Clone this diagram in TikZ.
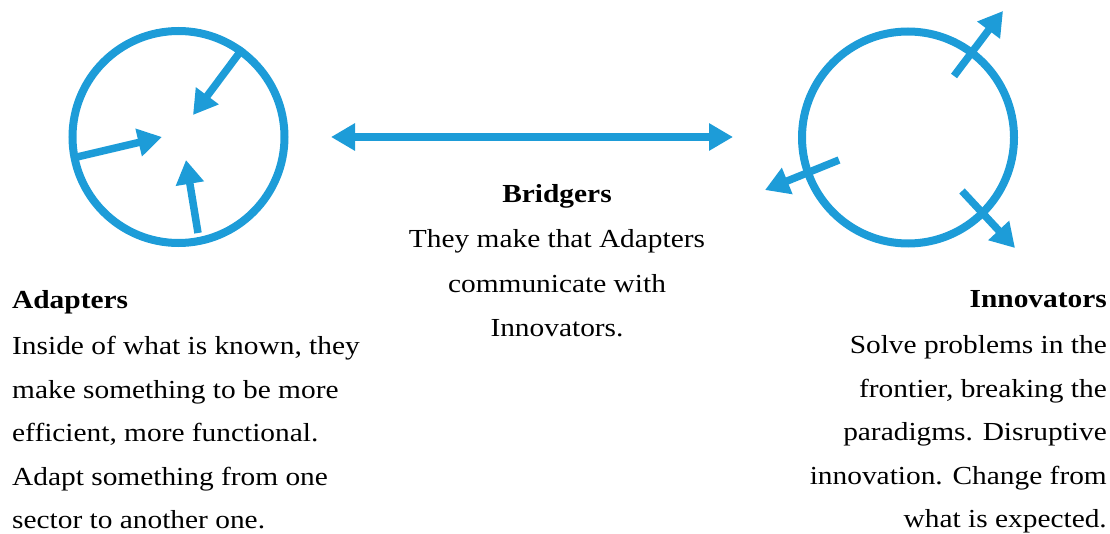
\documentclass[tikz,border=0pt]{standalone}
\usepackage{fontspec}
\setmainfont{Liberation Serif}[FakeStretch=1.13]
\usetikzlibrary{arrows.meta}
\definecolor{ringblue}{RGB}{29,156,216}
\begin{document}
\begin{tikzpicture}[x=1pt,y=-1pt,
  ring/.style={circle,draw=ringblue,line width=8pt,minimum size=212pt,inner sep=0pt},
  spoke/.style={draw=ringblue,line width=7.5pt,-{Triangle[width=27pt,length=24pt]}},
  link/.style={draw=ringblue,line width=8pt,{Triangle[width=26pt,length=24pt]}-{Triangle[width=26pt,length=24pt]}},
  caption/.style={inner sep=0pt,font=\fontsize{26}{43.5}\selectfont}]
\useasboundingbox (0,0) rectangle (1110,534);

% the two rings
\node[ring] (adapt) at (178.5,137) {};
\node[ring] (innov) at (908,137.5) {};

% inward spokes of the adapters ring
\coordinate (a1s) at (243,48);  \coordinate (a1t) at (193,115);
\coordinate (a2s) at (77,157);  \coordinate (a2t) at (162,137);
\coordinate (a3s) at (198,233); \coordinate (a3t) at (186,160);
\draw[spoke] (a1s) -- (a1t);
\draw[spoke] (a2s) -- (a2t);
\draw[spoke] (a3s) -- (a3t);

% outward spokes of the innovators ring
\coordinate (i1s) at (954,76);  \coordinate (i1t) at (1003,11);
\coordinate (i2s) at (839,160); \coordinate (i2t) at (765,190);
\coordinate (i3s) at (962,191); \coordinate (i3t) at (1015,248);
\draw[spoke] (i1s) -- (i1t);
\draw[spoke] (i2s) -- (i2t);
\draw[spoke] (i3s) -- (i3t);

% bridge between the rings
\coordinate (bl) at (331,137);
\coordinate (br) at (733,137);
\draw[link] (bl) -- (br);

% captions
\node[caption,anchor=north,align=center,font=\fontsize{26}{44.5}\selectfont] (bridge) at (557,184)
  {\textbf{Bridgers}\\[1pt]They make that Adapters\\communicate with\\Innovators.};
\node[caption,anchor=north west,align=left] (adapttxt) at (12,290)
  {\textbf{Adapters}\\[3pt]Inside of what is known, they\\make something to be more\\efficient, more functional.\\Adapt something from one\\sector to another one.};
\node[caption,anchor=north east,align=right] (innovtxt) at (1107,290)
  {\textbf{Innovators}\\[3pt]Solve problems in the\\frontier, breaking the\\paradigms. Disruptive\\innovation. Change from\\what is expected.};
\end{tikzpicture}
\end{document}
